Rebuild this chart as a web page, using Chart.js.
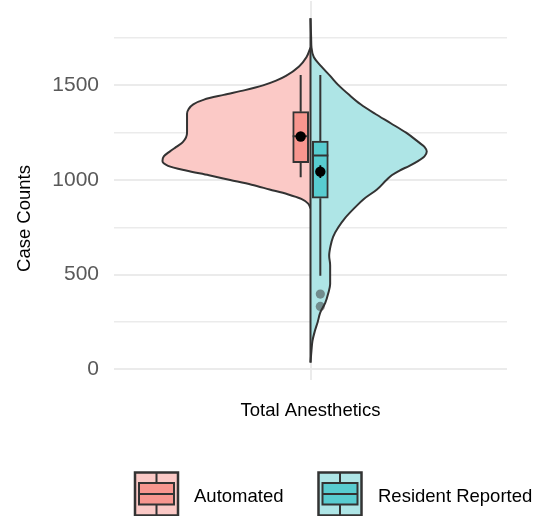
<!DOCTYPE html>
<html>
<head>
<meta charset="utf-8">
<script src="https://cdn.jsdelivr.net/npm/chart.js@4.4.0/dist/chart.umd.min.js"></script>
<style>
  html, body { margin: 0; padding: 0; background: #fff; }
  #wrap { width: 537px; height: 516px; }
</style>
</head>
<body>
<div id="wrap"><canvas id="violin"></canvas></div>
<script>
// split violin: density half-widths
const groups = ["Automated", "Resident Reported"];

const automatedLevels = [850, 875, 900, 925, 950, 975, 1000, 1025, 1050, 1075, 1100, 1125, 1150, 1175, 1200,
  1250, 1300, 1350, 1375, 1400, 1425, 1450, 1475, 1500, 1525, 1550, 1600, 1650, 1700];
const automatedDensity = [0, 0.007, 0.028, 0.07, 0.125, 0.18, 0.245, 0.31, 0.38, 0.435, 0.452, 0.448, 0.43, 0.41, 0.39,
  0.377, 0.377, 0.377, 0.372, 0.358, 0.325, 0.265, 0.2, 0.145, 0.105, 0.075, 0.035, 0.012, 0];

const residentLevels = [35, 100, 150, 200, 250, 300, 350, 400, 450, 500, 550, 600, 650, 700, 750, 800, 850, 900, 950,
  1000, 1025, 1050, 1075, 1100, 1125, 1150, 1175, 1200, 1250, 1300, 1350, 1400, 1450, 1500, 1550, 1600, 1650,
  1700, 1750, 1800, 1855];
const residentDensity = [0, 0.003, 0.006, 0.013, 0.022, 0.03, 0.045, 0.054, 0.06, 0.06, 0.06, 0.057, 0.061, 0.069,
  0.085, 0.106, 0.133, 0.163, 0.203, 0.232, 0.248, 0.272, 0.302, 0.328, 0.348, 0.355, 0.348, 0.33, 0.292, 0.245,
  0.197, 0.153, 0.118, 0.086, 0.06, 0.033, 0.01, 0.003, 0.002, 0.001, 0];

// box plot stats, one entry per group
const whiskerLow = [1015, 494];
const boxQ1 = [1092, 904];
const boxMedian = [1231, 1129];
const boxQ3 = [1361, 1206];
const whiskerHigh = [1555, 1555];
const groupMean = [1230, 1044];
const meanError = [14, 34];
const residentOutliers = [397, 332];

const yTicks = [0, 250, 500, 750, 1000, 1250, 1500, 1750];

// styling
const violinFill = ["#FBC9C6", "#AEE5E6"];
const boxFill = ["#F8968F", "#58CCD0"];
const ink = "#333333";
const dodge = [-0.03, 0.03];
const boxHalf = 0.0245;
const font = "'Liberation Sans', Arial, sans-serif";

function segments(list) {
  // join little [a, b] segments into one line, broken with null gaps
  let out = [];
  list.forEach((seg, i) => {
    if (i > 0) out.push({ x: seg[0].x, y: null });
    out.push(seg[0], seg[1]);
  });
  return out;
}

const whiskers = segments(groups.flatMap((g, i) => [
  [{ x: dodge[i], y: whiskerLow[i] }, { x: dodge[i], y: boxQ1[i] }],
  [{ x: dodge[i], y: boxQ3[i] }, { x: dodge[i], y: whiskerHigh[i] }]
]));
const medians = segments(groups.map((g, i) =>
  [{ x: dodge[i] - boxHalf, y: boxMedian[i] }, { x: dodge[i] + boxHalf, y: boxMedian[i] }]));
const errorBars = segments(groups.map((g, i) =>
  [{ x: dodge[i], y: groupMean[i] - meanError[i] }, { x: dodge[i], y: groupMean[i] + meanError[i] }]));

const textPlugin = {
  id: "paperText",
  afterDraw(chart) {
    const ctx = chart.ctx;
    ctx.save();
    ctx.fillStyle = "#000";
    ctx.font = "18.5px " + font;
    ctx.textAlign = "center";
    ctx.textBaseline = "middle";
    ctx.fillText("Total Anesthetics", 310.5, 411);

    ctx.save();
    ctx.translate(24.5, 218.5);
    ctx.rotate(-Math.PI / 2);
    ctx.fillText("Case Counts", 0, 0);
    ctx.restore();

    // legend keys, ggplot style (violin + box)
    const keys = [{ x: 135, label: groups[0], tx: 194 }, { x: 318.5, label: groups[1], tx: 378 }];
    const top = 472.5, size = 43;
    keys.forEach((k, i) => {
      ctx.fillStyle = violinFill[i];
      ctx.fillRect(k.x, top, size, size);
      ctx.strokeStyle = ink;
      ctx.lineWidth = 2.5;
      ctx.strokeRect(k.x, top, size, size);
      ctx.fillStyle = boxFill[i];
      ctx.fillRect(k.x + 4, top + 10.5, size - 8, 21.5);
      ctx.lineWidth = 2;
      ctx.strokeRect(k.x + 4, top + 10.5, size - 8, 21.5);
      ctx.beginPath();
      ctx.moveTo(k.x + 4, top + 21.5);
      ctx.lineTo(k.x + size - 4, top + 21.5);
      ctx.moveTo(k.x + size / 2, top);
      ctx.lineTo(k.x + size / 2, top + 10.5);
      ctx.moveTo(k.x + size / 2, top + 32);
      ctx.lineTo(k.x + size / 2, top + size);
      ctx.stroke();
      ctx.fillStyle = "#000";
      ctx.textAlign = "left";
      ctx.fillText(k.label, k.tx, 497);
    });
    ctx.restore();
  }
};

new Chart(document.getElementById("violin"), {
  type: "line",
  data: {
    datasets: [
      {
        label: groups[0],
        indexAxis: "y",
        data: automatedLevels.map((v, i) => ({ x: -automatedDensity[i], y: v })),
        fill: "origin",
        backgroundColor: violinFill[0],
        borderColor: ink,
        borderWidth: 2,
        pointRadius: 0,
        cubicInterpolationMode: "monotone",
        order: 20
      },
      {
        label: groups[1],
        indexAxis: "y",
        data: residentLevels.map((v, i) => ({ x: residentDensity[i], y: v })),
        fill: "origin",
        backgroundColor: violinFill[1],
        borderColor: ink,
        borderWidth: 2,
        pointRadius: 0,
        cubicInterpolationMode: "monotone",
        order: 19
      },
      {
        label: "split",
        data: [{ x: 0, y: residentLevels[0] }, { x: 0, y: residentLevels[residentLevels.length - 1] }],
        borderColor: ink,
        borderWidth: 2,
        pointRadius: 0,
        fill: false,
        order: 18
      },
      {
        label: "whiskers",
        data: whiskers,
        borderColor: ink,
        borderWidth: 2,
        pointRadius: 0,
        fill: false,
        spanGaps: false,
        order: 10
      },
      {
        type: "bar",
        label: "boxes",
        data: groups.map((g, i) => ({ x: dodge[i], y: [boxQ1[i], boxQ3[i]] })),
        backgroundColor: boxFill,
        borderColor: ink,
        borderWidth: 2,
        borderSkipped: false,
        barThickness: 16,
        order: 8
      },
      {
        label: "medians",
        data: medians,
        borderColor: ink,
        borderWidth: 2,
        pointRadius: 0,
        fill: false,
        spanGaps: false,
        order: 6
      },
      {
        label: "outliers",
        data: residentOutliers.map(v => ({ x: dodge[1], y: v })),
        showLine: false,
        pointRadius: 4.6,
        pointBackgroundColor: "rgba(51,51,51,0.5)",
        pointBorderWidth: 0,
        order: 5
      },
      {
        label: "mean error",
        data: errorBars,
        borderColor: "#000",
        borderWidth: 1.8,
        pointRadius: 0,
        fill: false,
        spanGaps: false,
        order: 4
      },
      {
        label: "means",
        data: groups.map((g, i) => ({ x: dodge[i], y: groupMean[i] })),
        showLine: false,
        pointRadius: 5.2,
        pointBackgroundColor: "#000",
        pointBorderWidth: 0,
        order: 2
      }
    ]
  },
  options: {
    responsive: true,
    maintainAspectRatio: false,
    animation: false,
    events: [],
    layout: { autoPadding: false, padding: { left: 0, right: 30, top: 1, bottom: 0 } },
    plugins: {
      legend: { display: false },
      tooltip: { enabled: false }
    },
    scales: {
      x: {
        type: "linear",
        min: -0.6,
        max: 0.6,
        offset: false,
        afterBuildTicks: s => { s.ticks = [{ value: 0 }]; },
        ticks: { display: false },
        grid: { color: "#ebebeb", lineWidth: 2, drawTicks: false, offset: false },
        border: { display: false },
        afterFit: s => { s.height = 136; }
      },
      y: {
        type: "linear",
        min: -57,
        max: 1946,
        afterBuildTicks: s => { s.ticks = yTicks.map(v => ({ value: v })); },
        ticks: {
          callback: v => (v % 500 === 0 ? v : ""),
          color: "#595959",
          font: { family: font, size: 21 },
          padding: 15
        },
        grid: {
          color: "#ebebeb",
          lineWidth: c => (c.tick && c.tick.value % 500 === 0 ? 2 : 1.6),
          drawTicks: false
        },
        border: { display: false },
        afterFit: s => { s.width = 114; s.paddingTop = 0; s.paddingBottom = 0; }
      }
    }
  },
  plugins: [textPlugin]
});
</script>
</body>
</html>
